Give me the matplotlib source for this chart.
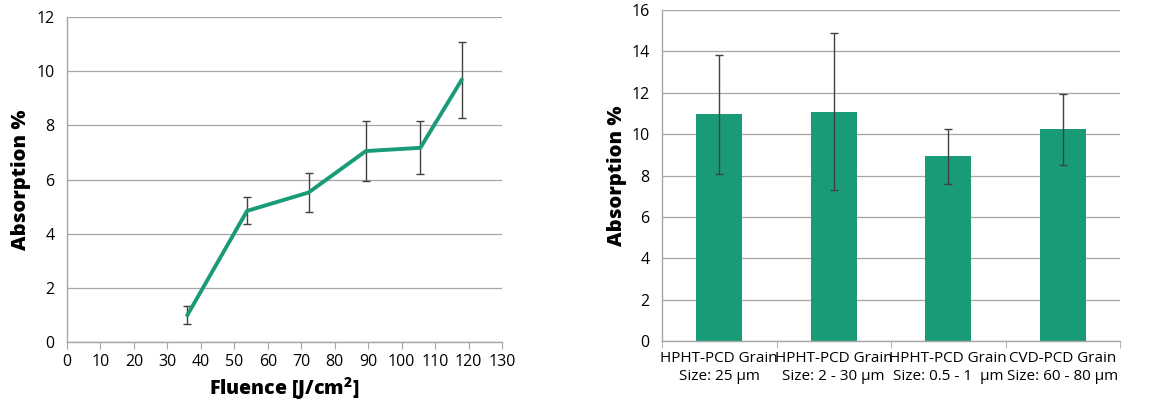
import numpy as np
import matplotlib.pyplot as plt

plt.rcParams['font.family'] = ['Open Sans', 'DejaVu Sans']
plt.rcParams['axes.linewidth'] = 1.0

# left panel: absorption vs fluence
fluence = [36, 53.8, 72.2, 89.3, 105.6, 117.9]
absorp = [1.0, 4.84, 5.52, 7.05, 7.17, 9.67]
absorp_err = [0.33, 0.5, 0.71, 1.11, 0.98, 1.39]

# right panel: absorption per material
materials = ['HPHT-PCD Grain\nSize: 25 µm', 'HPHT-PCD Grain\nSize: 2 - 30 µm',
             'HPHT-PCD Grain\nSize: 0.5 - 1  µm', 'CVD-PCD Grain\nSize: 60 - 80 µm']
mat_absorp = [10.95, 11.08, 8.92, 10.23]
mat_err = [2.86, 3.79, 1.33, 1.71]

green = '#1a9b78'
grid_c = '#a6a6a6'
err_c = '#404040'

fig = plt.figure(figsize=(11.58, 4), dpi=100)
ax1 = fig.add_axes([67/1158, 1-342/400, (502-67)/1158, (342-17)/400])
ax2 = fig.add_axes([662/1158, 1-341/400, (1120-662)/1158, (341-10)/400])

ax1.errorbar(fluence, absorp, yerr=absorp_err, color=green, linewidth=2.8,
             ecolor=err_c, elinewidth=1.0, capsize=3.2, capthick=1.0, zorder=3)
ax1.set_xlim(0, 130)
ax1.set_ylim(0, 12)
ax1.set_xticks(np.arange(0, 131, 10))
ax1.set_yticks(np.arange(0, 13, 2))
ax1.set_xlabel('Fluence [J/cm$^\\mathregular{2}$]', fontsize=14, fontweight='heavy', labelpad=3)
ax1.set_ylabel('Absorption %', fontsize=14.5, fontweight='heavy', labelpad=4)

x = np.arange(len(materials))
ax2.bar(x, mat_absorp, width=0.4, color=green, zorder=2)
ax2.errorbar(x, mat_absorp, yerr=mat_err, fmt='none', ecolor=err_c,
             elinewidth=1.0, capsize=3.2, capthick=1.0, zorder=3)
ax2.set_xlim(-0.5, 3.5)
ax2.set_ylim(0, 16)
ax2.set_yticks(np.arange(0, 17, 2))
ax2.set_xticks(x)
ax2.set_xticklabels(materials, fontsize=11, linespacing=1.3)
ax2.set_xticks(np.arange(-0.5, 4, 1), minor=True)
ax2.tick_params(axis='x', which='major', length=0, pad=7)
ax2.tick_params(axis='x', which='minor', length=5, direction='out', color=grid_c)
ax2.set_ylabel('Absorption %', fontsize=14.5, fontweight='heavy', labelpad=3)

for ax in (ax1, ax2):
    ax.grid(axis='y', color=grid_c, linewidth=0.9, zorder=0)
    ax.set_axisbelow(True)
    for s in ('top', 'right'):
        ax.spines[s].set_visible(False)
    for s in ('left', 'bottom'):
        ax.spines[s].set_color(grid_c)
    ax.tick_params(axis='y', length=0, labelsize=11.5, pad=9)
ax1.tick_params(axis='x', length=5, color=grid_c, labelsize=11.5, pad=4)

fig.savefig('out.png', dpi=100)
